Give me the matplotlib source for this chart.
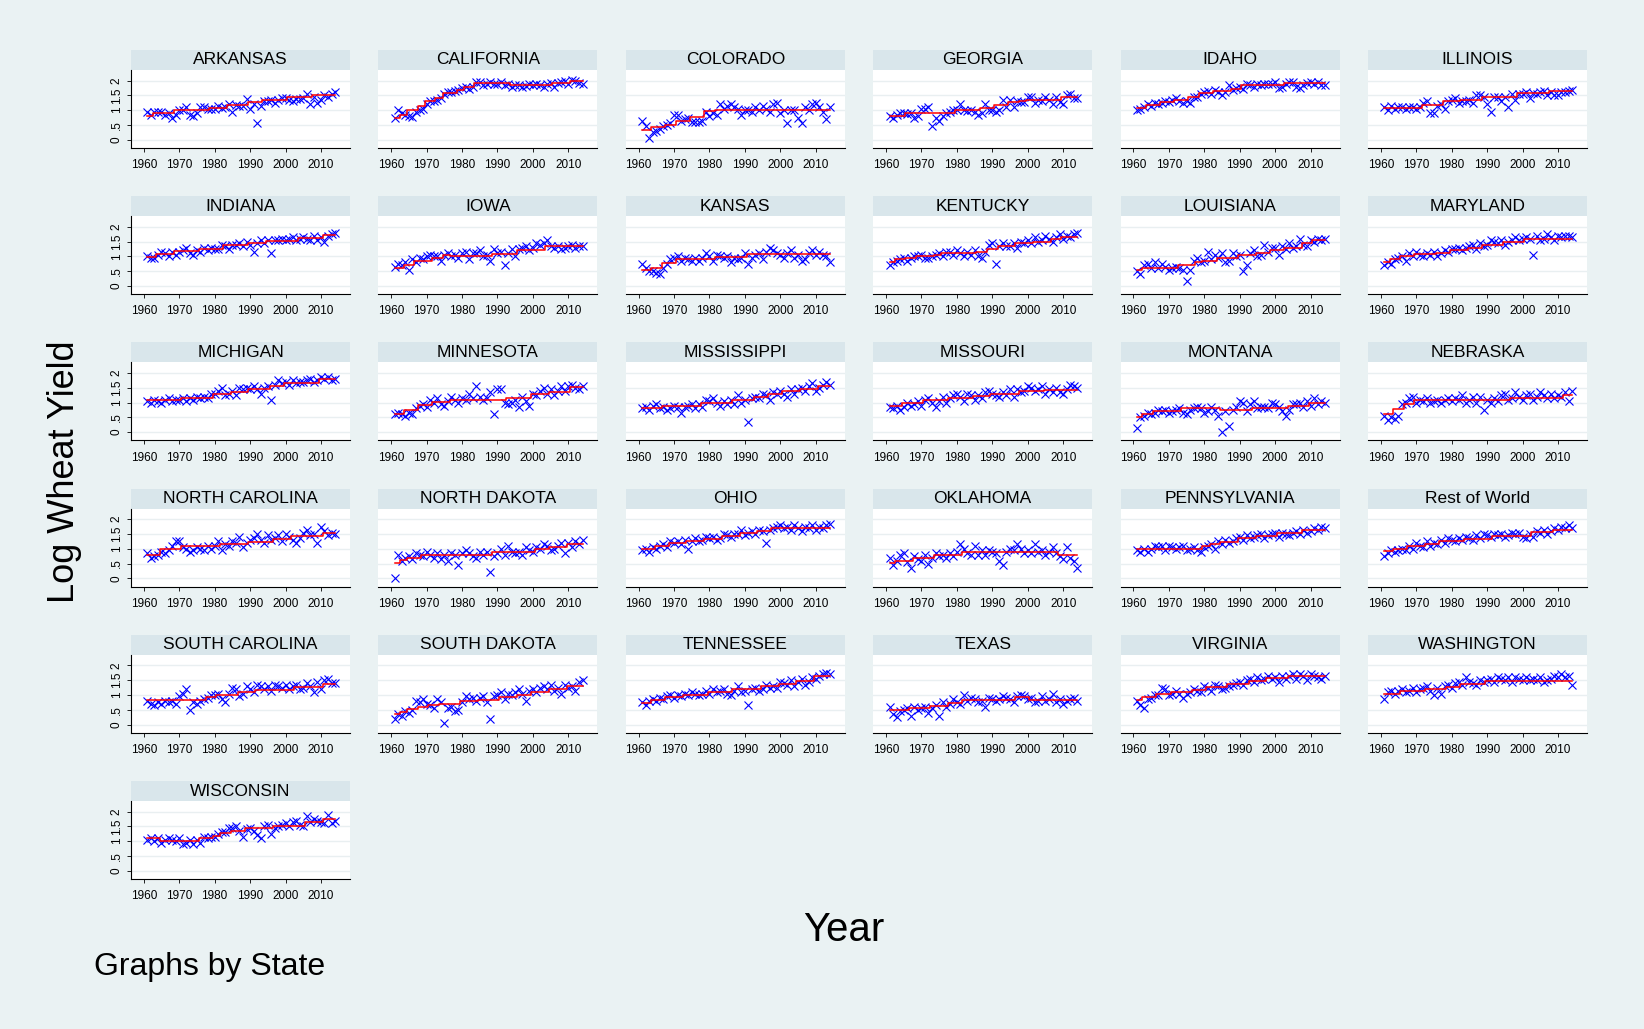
import numpy as np
import matplotlib
matplotlib.use('Agg')
import matplotlib.pyplot as plt
from matplotlib.patches import Rectangle

plt.rcParams['font.family'] = ['Liberation Sans', 'DejaVu Sans']

years = np.arange(1961, 2015)

states = ['ARKANSAS', 'CALIFORNIA', 'COLORADO', 'GEORGIA', 'IDAHO', 'ILLINOIS',
          'INDIANA', 'IOWA', 'KANSAS', 'KENTUCKY', 'LOUISIANA', 'MARYLAND',
          'MICHIGAN', 'MINNESOTA', 'MISSISSIPPI', 'MISSOURI', 'MONTANA', 'NEBRASKA',
          'NORTH CAROLINA', 'NORTH DAKOTA', 'OHIO', 'OKLAHOMA', 'PENNSYLVANIA', 'Rest of World',
          'SOUTH CAROLINA', 'SOUTH DAKOTA', 'TENNESSEE', 'TEXAS', 'VIRGINIA', 'WASHINGTON',
          'WISCONSIN']

# log yields, 1961-2014
arkansas = [0.95, 0.85, 0.95, 0.95, 0.95, 0.85, 0.92, 0.75, 0.85, 1.00,
            1.02, 1.10, 0.85, 0.80, 0.90, 1.10, 1.12, 1.05, 1.05, 1.05,
            1.15, 1.08, 1.10, 1.20, 0.95, 1.18, 1.15, 1.15, 1.38, 1.05,
            1.20, 0.55, 1.15, 1.30, 1.30, 1.35, 1.25, 1.35, 1.42, 1.40,
            1.35, 1.30, 1.38, 1.38, 1.40, 1.55, 1.20, 1.45, 1.25, 1.35,
            1.50, 1.45, 1.55, 1.60]
california = [0.72, 1.00, 0.90, 0.85, 0.80, 0.78, 0.95, 1.00, 1.05, 1.22,
              1.30, 1.30, 1.35, 1.40, 1.55, 1.60, 1.60, 1.65, 1.70, 1.75,
              1.80, 1.72, 1.78, 1.95, 1.95, 1.85, 1.90, 1.95, 1.90, 1.88,
              1.95, 1.85, 1.90, 1.80, 1.85, 1.85, 1.80, 1.82, 1.90, 1.85,
              1.90, 1.85, 1.78, 1.90, 1.92, 1.80, 1.92, 1.95, 1.98, 1.88,
              2.02, 1.98, 1.92, 1.90]
colorado = [0.65, 0.45, 0.05, 0.25, 0.30, 0.35, 0.45, 0.50, 0.55, 0.85,
            0.85, 0.65, 0.70, 0.75, 0.60, 0.60, 0.60, 0.65, 0.95, 0.80,
            0.90, 0.85, 1.20, 1.05, 1.15, 1.20, 1.10, 1.05, 0.85, 1.00,
            1.00, 0.95, 1.10, 1.00, 1.15, 1.05, 0.95, 1.20, 1.25, 0.90,
            1.00, 0.55, 1.00, 1.00, 0.75, 0.55, 1.10, 1.00, 1.20, 1.25,
            1.10, 0.95, 0.70, 1.10]
georgia = [0.82, 0.75, 0.85, 0.90, 0.92, 0.88, 0.90, 0.75, 0.80, 1.05,
           1.05, 1.10, 0.45, 0.75, 0.65, 0.80, 0.92, 0.95, 1.00, 1.00,
           1.22, 1.00, 0.98, 1.00, 0.95, 0.85, 0.90, 1.20, 1.00, 1.00,
           0.95, 1.00, 1.35, 1.10, 1.35, 1.10, 1.32, 1.28, 1.28, 1.45,
           1.45, 1.25, 1.35, 1.30, 1.45, 1.35, 1.20, 1.45, 1.28, 1.22,
           1.50, 1.55, 1.40, 1.40]
idaho = [1.00, 1.05, 1.10, 1.20, 1.15, 1.25, 1.20, 1.25, 1.30, 1.28,
         1.35, 1.42, 1.30, 1.25, 1.30, 1.25, 1.45, 1.45, 1.55, 1.60,
         1.65, 1.55, 1.70, 1.60, 1.50, 1.62, 1.85, 1.70, 1.75, 1.80,
         1.72, 1.90, 1.85, 1.80, 1.90, 1.85, 1.88, 1.90, 1.90, 1.95,
         1.75, 1.78, 1.88, 1.95, 1.95, 1.80, 1.75, 1.85, 1.92, 1.95,
         1.88, 1.95, 1.85, 1.85]
illinois = [1.10, 1.00, 1.15, 1.05, 1.10, 1.12, 1.05, 1.10, 1.10, 1.05,
            1.10, 1.25, 1.30, 0.90, 0.90, 1.15, 1.20, 1.05, 1.30, 1.35,
            1.40, 1.25, 1.30, 1.32, 1.35, 1.25, 1.50, 1.50, 1.45, 1.20,
            0.95, 1.45, 1.45, 1.30, 1.45, 1.10, 1.55, 1.35, 1.55, 1.55,
            1.60, 1.40, 1.58, 1.55, 1.60, 1.65, 1.50, 1.62, 1.50, 1.50,
            1.60, 1.62, 1.65, 1.70]
indiana = [1.00, 0.95, 0.95, 1.05, 1.15, 1.10, 1.00, 1.15, 1.05, 1.15,
           1.20, 1.30, 1.10, 1.05, 1.20, 1.15, 1.30, 1.20, 1.30, 1.25,
           1.25, 1.40, 1.35, 1.25, 1.40, 1.40, 1.45, 1.35, 1.50, 1.40,
           1.15, 1.45, 1.55, 1.45, 1.55, 1.10, 1.55, 1.55, 1.60, 1.55,
           1.60, 1.65, 1.55, 1.60, 1.65, 1.60, 1.55, 1.70, 1.55, 1.65,
           1.50, 1.70, 1.75, 1.80]
iowa = [0.65, 0.75, 0.70, 0.80, 0.55, 0.90, 0.80, 0.95, 0.90, 1.00,
        1.05, 1.00, 1.00, 0.85, 1.05, 1.10, 1.00, 1.05, 0.95, 1.10,
        1.15, 0.90, 1.10, 1.10, 1.20, 1.00, 1.05, 0.85, 1.25, 1.10,
        1.15, 0.70, 1.10, 1.25, 1.00, 1.25, 1.30, 1.35, 1.20, 1.30,
        1.45, 1.40, 1.45, 1.55, 1.35, 1.30, 1.35, 1.25, 1.30, 1.35,
        1.40, 1.30, 1.35, 1.35]
kansas = [0.75, 0.60, 0.50, 0.50, 0.45, 0.40, 0.60, 0.75, 0.90, 0.95,
          1.00, 0.85, 0.95, 0.90, 0.85, 0.95, 0.85, 0.95, 1.10, 1.00,
          0.85, 1.05, 1.00, 0.95, 1.00, 0.80, 0.95, 0.90, 0.95, 1.10,
          0.75, 0.95, 1.05, 1.10, 0.90, 1.15, 1.30, 1.20, 1.10, 1.05,
          0.95, 1.10, 1.20, 0.95, 1.05, 0.85, 0.90, 1.10, 1.20, 1.05,
          1.15, 1.05, 1.00, 0.80]
kentucky = [0.70, 0.80, 0.85, 0.90, 0.95, 0.85, 0.95, 1.00, 1.00, 1.05,
            0.95, 0.95, 1.00, 1.05, 1.10, 1.00, 1.15, 1.15, 1.05, 1.20,
            1.10, 1.00, 1.15, 1.05, 1.20, 1.00, 0.95, 1.15, 1.40, 1.45,
            0.75, 1.35, 1.45, 1.35, 1.35, 1.45, 1.30, 1.50, 1.45, 1.55,
            1.45, 1.65, 1.50, 1.55, 1.70, 1.60, 1.50, 1.65, 1.75, 1.60,
            1.70, 1.65, 1.75, 1.80]
louisiana = [0.50, 0.40, 0.70, 0.75, 0.60, 0.80, 0.60, 0.75, 0.65, 0.55,
             0.60, 0.65, 0.60, 0.55, 0.15, 0.55, 0.85, 0.95, 0.80, 0.85,
             1.15, 0.90, 1.05, 0.95, 1.10, 0.80, 0.85, 1.10, 1.00, 1.05,
             0.50, 0.70, 1.10, 1.20, 1.00, 1.05, 1.40, 1.15, 1.30, 1.30,
             1.05, 1.35, 1.25, 1.45, 1.30, 1.35, 1.60, 1.40, 1.35, 1.55,
             1.50, 1.60, 1.55, 1.60]
maryland = [0.70, 0.80, 0.75, 0.90, 0.95, 1.00, 0.85, 1.10, 1.00, 1.15,
            1.05, 1.00, 1.10, 1.05, 1.15, 1.00, 1.10, 1.20, 1.15, 1.25,
            1.25, 1.30, 1.20, 1.30, 1.35, 1.40, 1.25, 1.45, 1.35, 1.40,
            1.55, 1.50, 1.45, 1.55, 1.40, 1.50, 1.55, 1.65, 1.55, 1.60,
            1.65, 1.60, 1.05, 1.70, 1.55, 1.60, 1.75, 1.65, 1.55, 1.70,
            1.65, 1.70, 1.70, 1.65]
michigan = [1.05, 1.00, 1.10, 1.05, 1.00, 1.10, 1.15, 1.05, 1.10, 1.10,
            1.15, 1.05, 1.15, 1.10, 1.20, 1.15, 1.20, 1.15, 1.30, 1.30,
            1.40, 1.50, 1.25, 1.30, 1.40, 1.25, 1.50, 1.45, 1.50, 1.45,
            1.55, 1.45, 1.30, 1.50, 1.55, 1.10, 1.60, 1.75, 1.65, 1.70,
            1.60, 1.75, 1.65, 1.70, 1.70, 1.75, 1.80, 1.70, 1.75, 1.85,
            1.80, 1.85, 1.75, 1.80]
minnesota = [0.60, 0.65, 0.60, 0.55, 0.65, 0.60, 0.80, 0.90, 0.95, 0.85,
             1.10, 1.00, 1.15, 0.95, 0.90, 1.05, 1.20, 1.10, 1.00, 1.15,
             1.10, 1.30, 1.15, 1.55, 1.20, 1.10, 1.15, 1.35, 0.60, 1.45,
             1.45, 1.00, 0.95, 1.00, 1.10, 0.85, 1.20, 1.05, 0.90, 1.30,
             1.25, 1.40, 1.50, 1.30, 1.45, 1.25, 1.40, 1.55, 1.40, 1.55,
             1.60, 1.50, 1.45, 1.55]
mississippi = [0.80, 0.85, 0.75, 0.90, 0.95, 0.80, 0.85, 0.75, 0.80, 0.90,
               0.85, 0.65, 0.85, 0.90, 0.95, 0.80, 0.95, 0.85, 1.10, 1.05,
               1.15, 1.00, 0.90, 1.05, 0.95, 1.10, 0.95, 1.25, 1.00, 1.10,
               0.35, 1.15, 1.20, 1.15, 1.30, 1.25, 1.10, 1.35, 1.30, 1.40,
               1.30, 1.20, 1.45, 1.30, 1.45, 1.50, 1.40, 1.55, 1.65, 1.40,
               1.50, 1.60, 1.70, 1.60]
missouri = [0.85, 0.80, 0.90, 0.75, 0.85, 1.00, 0.90, 0.95, 1.05, 0.90,
            1.10, 1.15, 1.00, 0.85, 1.05, 1.20, 1.00, 1.15, 1.25, 1.30,
            1.20, 1.05, 1.30, 1.25, 1.10, 1.25, 1.15, 1.35, 1.40, 1.30,
            1.25, 1.20, 1.35, 1.25, 1.45, 1.20, 1.45, 1.35, 1.40, 1.55,
            1.50, 1.40, 1.45, 1.55, 1.30, 1.45, 1.35, 1.50, 1.35, 1.30,
            1.45, 1.60, 1.55, 1.50]
montana = [0.15, 0.50, 0.55, 0.65, 0.60, 0.65, 0.75, 0.70, 0.75, 0.65,
           0.70, 0.75, 0.80, 0.65, 0.60, 0.75, 0.80, 0.85, 0.80, 0.65,
           0.70, 0.85, 0.75, 0.55, 0.02, 0.70, 0.20, 0.75, 0.85, 1.05,
           1.00, 0.70, 0.95, 1.05, 0.80, 0.85, 0.85, 0.80, 1.00, 0.95,
           0.85, 0.70, 0.55, 0.75, 0.95, 0.95, 1.00, 0.85, 1.05, 0.90,
           1.15, 0.95, 1.05, 1.00]
nebraska = [0.55, 0.40, 0.50, 0.45, 0.55, 0.95, 1.00, 1.15, 1.20, 1.00,
            1.10, 1.05, 1.15, 1.00, 1.05, 1.10, 1.00, 1.10, 1.15, 1.05,
            1.15, 1.10, 1.25, 1.00, 1.10, 1.20, 1.00, 1.20, 0.75, 1.10,
            1.00, 1.15, 1.05, 1.25, 1.30, 1.10, 1.15, 1.35, 1.20, 1.10,
            1.25, 1.30, 1.10, 1.20, 1.35, 1.25, 1.15, 1.30, 1.15, 1.25,
            1.20, 1.35, 1.05, 1.40]
north_carolina = [0.85, 0.70, 0.75, 0.80, 0.90, 0.85, 0.95, 1.10, 1.25, 1.25,
                  1.05, 1.00, 0.90, 0.95, 1.05, 1.00, 0.95, 1.10, 1.00, 1.10,
                  1.25, 0.95, 1.15, 1.10, 1.25, 1.20, 1.40, 1.05, 1.20, 1.30,
                  1.35, 1.50, 1.30, 1.20, 1.45, 1.30, 1.35, 1.45, 1.25, 1.50,
                  1.40, 1.30, 1.20, 1.35, 1.55, 1.65, 1.45, 1.50, 1.20, 1.75,
                  1.60, 1.45, 1.55, 1.50]
north_dakota = [0.00, 0.80, 0.60, 0.70, 0.75, 0.65, 0.85, 0.80, 0.75, 0.90,
                0.80, 0.70, 0.85, 0.65, 0.80, 0.60, 0.85, 0.80, 0.45, 0.85,
                0.95, 0.85, 0.75, 0.70, 0.90, 0.80, 0.90, 0.20, 0.75, 0.85,
                1.00, 0.80, 1.10, 0.90, 0.85, 0.90, 0.80, 1.05, 0.95, 0.90,
                1.05, 1.00, 1.15, 1.10, 0.95, 1.00, 1.10, 1.20, 0.85, 1.20,
                1.05, 1.25, 1.15, 1.30]
ohio = [0.95, 1.00, 0.90, 1.05, 1.00, 1.10, 1.15, 1.05, 1.25, 1.20,
        1.25, 1.15, 1.30, 1.00, 1.25, 1.35, 1.25, 1.30, 1.40, 1.35,
        1.40, 1.30, 1.35, 1.50, 1.45, 1.40, 1.50, 1.50, 1.65, 1.45,
        1.55, 1.60, 1.50, 1.65, 1.60, 1.20, 1.65, 1.70, 1.75, 1.80,
        1.70, 1.75, 1.65, 1.80, 1.70, 1.60, 1.75, 1.70, 1.80, 1.65,
        1.75, 1.70, 1.80, 1.85]
oklahoma = [0.70, 0.45, 0.60, 0.80, 0.85, 0.55, 0.35, 0.75, 0.65, 0.60,
            0.80, 0.50, 0.70, 0.85, 0.75, 0.80, 0.70, 0.85, 0.75, 0.90,
            1.15, 1.00, 0.85, 0.80, 1.10, 0.80, 0.95, 0.80, 0.95, 0.90,
            0.85, 0.60, 0.45, 0.90, 1.00, 0.95, 1.15, 1.00, 0.85, 0.95,
            0.85, 1.15, 0.90, 0.95, 0.80, 0.90, 1.05, 0.85, 0.75, 0.65,
            1.05, 0.70, 0.60, 0.35]
pennsylvania = [0.95, 0.90, 1.00, 0.90, 1.00, 1.10, 1.05, 1.10, 0.95, 1.10,
                1.05, 1.00, 1.05, 1.10, 0.95, 1.00, 1.05, 0.95, 0.90, 1.05,
                1.10, 1.15, 1.00, 1.25, 1.15, 1.30, 1.20, 1.25, 1.35, 1.40,
                1.30, 1.45, 1.35, 1.40, 1.45, 1.50, 1.35, 1.45, 1.50, 1.55,
                1.40, 1.55, 1.50, 1.45, 1.55, 1.60, 1.50, 1.65, 1.55, 1.60,
                1.70, 1.65, 1.75, 1.70]
rest_of_world = [0.75, 0.85, 0.95, 0.90, 0.95, 1.00, 0.95, 1.10, 1.00, 1.20,
                 1.10, 1.05, 1.25, 1.10, 1.20, 1.15, 1.30, 1.20, 1.35, 1.30,
                 1.25, 1.35, 1.30, 1.40, 1.35, 1.30, 1.45, 1.35, 1.50, 1.45,
                 1.40, 1.50, 1.45, 1.50, 1.40, 1.45, 1.55, 1.50, 1.55, 1.40,
                 1.35, 1.50, 1.40, 1.60, 1.55, 1.65, 1.50, 1.60, 1.70, 1.65,
                 1.75, 1.70, 1.80, 1.70]
south_carolina = [0.80, 0.70, 0.65, 0.75, 0.70, 0.80, 0.75, 0.80, 0.70, 0.95,
                  1.05, 1.20, 0.50, 0.75, 0.70, 0.80, 0.85, 0.90, 1.00, 1.00,
                  1.05, 0.85, 0.75, 1.05, 1.25, 1.20, 0.95, 1.05, 1.30, 1.20,
                  1.10, 1.35, 1.30, 1.20, 1.30, 1.15, 1.35, 1.30, 1.25, 1.35,
                  1.20, 1.30, 1.35, 1.20, 1.25, 1.40, 1.30, 1.10, 1.45, 1.20,
                  1.50, 1.55, 1.40, 1.40]
south_dakota = [0.20, 0.35, 0.30, 0.45, 0.40, 0.50, 0.80, 0.75, 0.85, 0.70,
                0.65, 0.55, 0.85, 0.75, 0.05, 0.55, 0.60, 0.45, 0.50, 0.75,
                0.95, 0.85, 0.90, 0.80, 0.90, 0.95, 0.75, 0.20, 0.95, 1.00,
                1.10, 0.85, 1.05, 1.00, 1.10, 1.20, 1.05, 0.80, 1.15, 1.20,
                1.10, 1.25, 1.30, 1.20, 1.35, 1.15, 1.25, 1.05, 1.35, 1.25,
                1.30, 1.15, 1.45, 1.50]
tennessee = [0.75, 0.65, 0.80, 0.85, 0.80, 0.90, 0.85, 0.95, 1.00, 0.90,
             1.00, 0.95, 1.05, 1.00, 1.10, 1.05, 1.00, 1.05, 1.15, 1.05,
             1.20, 1.10, 1.15, 1.20, 1.05, 1.00, 1.15, 1.30, 1.10, 1.15,
             0.65, 1.20, 1.25, 1.15, 1.20, 1.35, 1.25, 1.30, 1.25, 1.45,
             1.40, 1.35, 1.50, 1.30, 1.45, 1.55, 1.35, 1.45, 1.60, 1.55,
             1.65, 1.70, 1.75, 1.70]
texas = [0.60, 0.35, 0.25, 0.45, 0.50, 0.55, 0.30, 0.60, 0.50, 0.55,
         0.60, 0.40, 0.55, 0.65, 0.30, 0.75, 0.60, 0.70, 0.85, 0.75,
         0.70, 1.00, 0.80, 0.90, 0.85, 0.75, 0.80, 0.60, 0.90, 0.85,
         0.80, 0.85, 0.95, 0.90, 0.85, 0.75, 0.95, 1.00, 0.95, 0.85,
         0.90, 0.75, 0.80, 0.95, 0.80, 0.85, 1.05, 0.75, 0.85, 0.70,
         0.80, 0.85, 0.90, 0.80]
virginia = [0.80, 0.65, 0.55, 0.85, 0.90, 1.00, 1.00, 1.25, 1.20, 1.00,
            1.05, 1.15, 1.05, 0.90, 1.05, 1.10, 1.20, 1.15, 1.10, 1.30,
            1.25, 1.15, 1.35, 1.30, 1.20, 1.25, 1.30, 1.35, 1.40, 1.45,
            1.35, 1.50, 1.55, 1.45, 1.60, 1.50, 1.55, 1.65, 1.55, 1.60,
            1.45, 1.65, 1.55, 1.65, 1.70, 1.55, 1.70, 1.65, 1.50, 1.70,
            1.65, 1.60, 1.55, 1.65]
washington = [0.85, 1.10, 1.15, 1.05, 1.15, 1.20, 1.10, 1.15, 1.25, 1.10,
              1.20, 1.25, 1.30, 1.15, 1.00, 1.25, 1.05, 1.30, 1.35, 1.25,
              1.40, 1.45, 1.35, 1.60, 1.45, 1.40, 1.35, 1.50, 1.45, 1.50,
              1.55, 1.45, 1.60, 1.55, 1.50, 1.60, 1.45, 1.60, 1.55, 1.50,
              1.60, 1.50, 1.55, 1.50, 1.60, 1.45, 1.50, 1.55, 1.65, 1.60,
              1.70, 1.60, 1.65, 1.35]
wisconsin = [1.05, 1.10, 1.00, 1.10, 0.95, 1.05, 1.10, 1.05, 1.00, 1.10,
             0.90, 0.95, 1.05, 0.90, 1.05, 0.95, 1.15, 1.10, 1.15, 1.15,
             1.25, 1.30, 1.30, 1.45, 1.45, 1.50, 1.35, 1.15, 1.40, 1.45,
             1.35, 1.20, 1.10, 1.50, 1.55, 1.25, 1.45, 1.50, 1.55, 1.60,
             1.50, 1.65, 1.70, 1.55, 1.50, 1.85, 1.65, 1.75, 1.70, 1.65,
             1.60, 1.90, 1.60, 1.70]

# fitted step line: first year of each regime, and its mean level
break_years = [
    [1961, 1963, 1969, 1979, 1984, 1990, 1994, 2001, 2008],
    [1961, 1963, 1965, 1968, 1970, 1973, 1975, 1979, 1981, 1984, 1994, 2006, 2011],
    [1961, 1964, 1968, 1971, 1975, 1979, 1982],
    [1961, 1966, 1980, 1987, 1991, 1995, 1998, 2000, 2010],
    [1961, 1964, 1968, 1972, 1976, 1979, 1983, 1988, 1991, 2003],
    [1961, 1972, 1978, 1983, 1989, 1999, 2008],
    [1961, 1964, 1969, 1976, 1983, 1990, 1995, 2004, 2011],
    [1961, 1964, 1967, 1972, 1975, 1977, 1989, 1996, 2004],
    [1961, 1964, 1967, 1971, 1982, 1991],
    [1961, 1963, 1966, 1969, 1974, 1976, 1986, 1989, 1992, 1997, 2002, 2007, 2010],
    [1961, 1963, 1973, 1978, 1980, 1984, 1990, 1995, 1999, 2003, 2008, 2011],
    [1961, 1963, 1966, 1970, 1976, 1980, 1985, 1989, 1995, 2001],
    [1961, 1971, 1980, 1985, 1990, 1996, 2000, 2010],
    [1961, 1964, 1968, 1972, 1977, 1993, 2000, 2005, 2011],
    [1961, 1967, 1978, 1987, 1993, 1997, 2001, 2006, 2011],
    [1961, 1965, 1971, 1978, 1985, 1990, 1998, 2005],
    [1961, 1963, 1966, 1974, 1985, 1994, 2004, 2010],
    [1961, 1964, 1967, 1970, 1997, 2012],
    [1961, 1965, 1971, 1982, 1990, 1997, 2002, 2011],
    [1961, 1963, 1965, 1969, 1989, 2001, 2005, 2010],
    [1961, 1965, 1969, 1974, 1979, 1984, 1989, 1994, 1998],
    [1961, 1963, 1968, 1974, 1982, 2009],
    [1961, 1980, 1982, 1985, 1990, 1995, 2001, 2008],
    [1961, 1964, 1968, 1973, 1977, 1984, 1992, 2003, 2009],
    [1961, 1978, 1981, 1987, 1992, 2003, 2011],
    [1961, 1963, 1965, 1968, 1971, 1974, 1980, 1985, 1991, 1996, 2000, 2005, 2010],
    [1961, 1964, 1968, 1973, 1980, 1987, 1995, 2000, 2005, 2010],
    [1961, 1967, 1973, 1978, 1982, 1997, 2001],
    [1961, 1963, 1967, 1971, 1977, 1981, 1987, 1993, 1998, 2004],
    [1961, 1966, 1973, 1979, 1983, 1990],
    [1961, 1965, 1976, 1980, 1982, 1985, 1989, 1997, 2006, 2011],
]
break_levels = [
    [0.82, 0.90, 0.99, 1.07, 1.17, 1.28, 1.36, 1.44, 1.53],
    [0.72, 0.85, 1.00, 1.15, 1.30, 1.42, 1.58, 1.70, 1.78, 1.92, 1.85, 1.92, 2.00],
    [0.34, 0.43, 0.51, 0.63, 0.77, 0.97, 1.00],
    [0.80, 0.91, 1.00, 1.08, 1.17, 1.27, 1.30, 1.36, 1.45],
    [1.08, 1.19, 1.27, 1.34, 1.45, 1.57, 1.65, 1.73, 1.84, 1.93],
    [1.08, 1.19, 1.30, 1.36, 1.45, 1.57, 1.65],
    [0.98, 1.09, 1.17, 1.26, 1.37, 1.44, 1.53, 1.61, 1.74],
    [0.62, 0.72, 0.83, 0.94, 1.05, 1.00, 1.09, 1.22, 1.35],
    [0.55, 0.62, 0.78, 0.90, 0.98, 1.08],
    [0.80, 0.90, 0.95, 1.00, 1.05, 1.10, 1.15, 1.25, 1.35, 1.45, 1.50, 1.58, 1.65],
    [0.55, 0.62, 0.70, 0.80, 0.85, 0.95, 1.05, 1.10, 1.20, 1.30, 1.45, 1.55],
    [0.80, 0.90, 1.00, 1.07, 1.12, 1.20, 1.30, 1.40, 1.50, 1.60],
    [1.09, 1.17, 1.28, 1.37, 1.47, 1.56, 1.67, 1.81],
    [0.62, 0.75, 0.92, 1.02, 1.09, 1.17, 1.28, 1.37, 1.52],
    [0.81, 0.89, 0.97, 1.09, 1.20, 1.30, 1.39, 1.47, 1.56],
    [0.89, 0.98, 1.09, 1.17, 1.22, 1.30, 1.39, 1.44],
    [0.50, 0.61, 0.70, 0.81, 0.74, 0.81, 0.89, 0.98],
    [0.61, 0.78, 0.94, 1.09, 1.17, 1.24],
    [0.80, 0.98, 1.08, 1.17, 1.24, 1.33, 1.44, 1.52],
    [0.52, 0.63, 0.70, 0.80, 0.89, 0.98, 1.06, 1.17],
    [1.00, 1.11, 1.20, 1.26, 1.33, 1.42, 1.52, 1.61, 1.72],
    [0.52, 0.59, 0.70, 0.80, 0.89, 0.80],
    [1.00, 1.08, 1.17, 1.24, 1.36, 1.44, 1.53, 1.63],
    [0.91, 1.00, 1.09, 1.17, 1.26, 1.33, 1.44, 1.56, 1.63],
    [0.83, 0.92, 1.00, 1.10, 1.18, 1.27, 1.37],
    [0.37, 0.44, 0.53, 0.61, 0.67, 0.70, 0.78, 0.84, 0.92, 1.00, 1.09, 1.20, 1.29],
    [0.73, 0.84, 0.92, 1.00, 1.11, 1.20, 1.29, 1.37, 1.49, 1.64],
    [0.49, 0.56, 0.64, 0.73, 0.83, 0.92, 0.83],
    [0.83, 0.92, 1.03, 1.10, 1.18, 1.26, 1.36, 1.47, 1.56, 1.64],
    [1.04, 1.12, 1.20, 1.28, 1.37, 1.48],
    [1.10, 1.00, 1.10, 1.19, 1.28, 1.36, 1.45, 1.53, 1.65, 1.74],
]

series = [arkansas, california, colorado, georgia, idaho, illinois,
          indiana, iowa, kansas, kentucky, louisiana, maryland,
          michigan, minnesota, mississippi, missouri, montana, nebraska,
          north_carolina, north_dakota, ohio, oklahoma, pennsylvania, rest_of_world,
          south_carolina, south_dakota, tennessee, texas, virginia, washington,
          wisconsin]

xticks = [1960, 1970, 1980, 1990, 2000, 2010]
yticks = [0, 0.5, 1, 1.5, 2]
ytick_labels = ['0', '.5', '1', '1.5', '2']

bg = '#eaf2f3'
band = '#d9e6eb'

W, H = 1644, 1029
fig = plt.figure(figsize=(W / 100, H / 100), dpi=100, facecolor=bg)

pw, ph, bh = 219, 78, 20
for i, name in enumerate(states):
    r, c = divmod(i, 6)
    left = 131 + c * 247.4
    top = 70 + r * 146.2
    ax = fig.add_axes([left / W, 1 - (top + ph) / H, pw / W, ph / H])
    ax.set_facecolor('white')

    vals = np.array(series[i])
    yrs = years[:len(vals)]
    fit = np.array([break_levels[i][np.searchsorted(break_years[i], y, side='right') - 1]
                    for y in yrs])

    ax.plot(yrs, vals, linestyle='none', marker='x', ms=6, mew=0.8, color='blue', zorder=3)
    ax.plot(yrs, fit, drawstyle='steps-mid', color='red', lw=1.1, zorder=4)

    ax.set_xlim(1956.4, 2018.2)
    ax.set_ylim(-0.28, 2.36)
    ax.set_yticks(yticks)
    ax.grid(axis='y', color='#e9eff1', lw=1.0, zorder=0)
    ax.set_xticks(xticks)
    ax.set_xticklabels([str(t) for t in xticks], fontsize=8.5)
    ax.tick_params(axis='x', length=3, width=0.6, pad=5)

    for s in ['top', 'right']:
        ax.spines[s].set_visible(False)
    ax.spines['bottom'].set_linewidth(0.8)
    if c == 0:
        ax.set_yticklabels(ytick_labels, rotation=90, va='center', fontsize=8.5)
        ax.tick_params(axis='y', length=3, width=0.6, pad=3)
        ax.spines['left'].set_linewidth(0.8)
    else:
        ax.spines['left'].set_visible(False)
        ax.tick_params(axis='y', left=False, labelleft=False)

    ax.add_patch(Rectangle((0, 1), 1, bh / ph, transform=ax.transAxes,
                           facecolor=band, edgecolor='none', clip_on=False))
    ax.text(0.5, 1 + bh / ph / 2, name, transform=ax.transAxes,
            ha='center', va='center', fontsize=12.5)

fig.text(65 / W, 1 - 472 / H, 'Log Wheat Yield', rotation=90,
         ha='center', va='center', fontsize=26)
fig.text(844 / W, 1 - 930 / H, 'Year', ha='center', va='center', fontsize=29)
fig.text(94 / W, 1 - 967 / H, 'Graphs by State', ha='left', va='center', fontsize=23)

fig.savefig('out.png', dpi=100, facecolor=bg)
